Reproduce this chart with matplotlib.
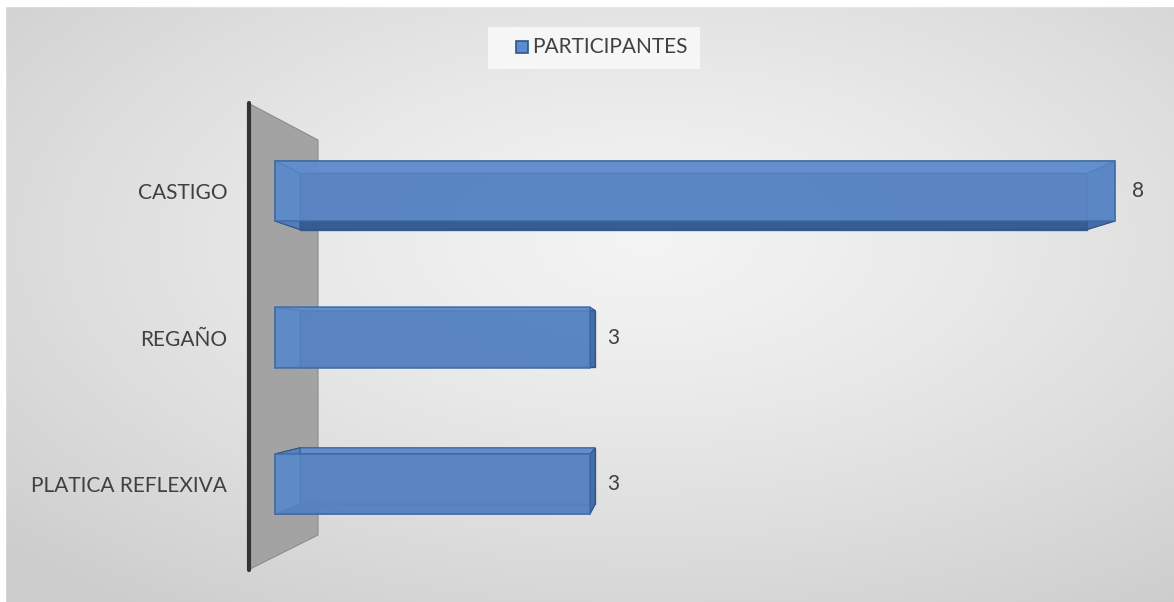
import matplotlib.pyplot as plt
import numpy as np
from matplotlib.patches import Polygon, Rectangle

categories = ["PLATICA REFLEXIVA", "REGAÑO", "CASTIGO"]
values = [3, 3, 8]
series_name = "PARTICIPANTES"

plt.rcParams['font.family'] = ['Lato', 'DejaVu Sans']

W, H = 1174, 602
fig = plt.figure(figsize=(W / 100, H / 100), dpi=100)

# background gradient
bg = fig.add_axes([0, 0, 1, 1])
yy, xx = np.mgrid[0:H, 0:W]
r = np.sqrt(((xx - W * 0.55) / W) ** 2 + ((yy - H * 0.4) / H) ** 2)
shade = 0.955 - 0.15 * np.clip(r / 0.75, 0, 1) ** 1.3
bg.imshow(np.dstack([shade] * 3), extent=[0, W, H, 0], aspect='auto')
bg.add_patch(Rectangle((0, 0), W, 6, color='white'))
bg.add_patch(Rectangle((0, 0), 5, H, color='white'))
bg.set_xlim(0, W)
bg.set_ylim(H, 0)
bg.axis('off')

# plot axes in pixel box x 248..1160, y 95..575
px0, px1, py0, py1 = 248, 1160, 95, 575
ax = fig.add_axes([px0 / W, 1 - py1 / H, (px1 - px0) / W, (py1 - py0) / H])
ax.patch.set_alpha(0)
x_zero, x_scale = 275, 105.0
y_zero, y_scale = 484, 146.5
ax.set_xlim((px0 - x_zero) / x_scale, (px1 - x_zero) / x_scale)
ax.set_ylim((y_zero - py1) / y_scale, (y_zero - py0) / y_scale)

# side wall
fx = lambda p: (p - px0) / (px1 - px0)
fy = lambda p: (py1 - p) / (py1 - py0)
wall = Polygon([(fx(248), fy(103)), (fx(318), fy(140)), (fx(318), fy(535)), (fx(248), fy(570))],
               closed=True, transform=ax.transAxes, facecolor='#a3a3a3', edgecolor='#8c8c8c',
               lw=0.8, zorder=1, clip_on=False)
ax.add_patch(wall)
ax.plot([fx(249), fx(249)], [fy(103), fy(570)], transform=ax.transAxes, color='#333333',
        lw=3, solid_capstyle='round', zorder=2, clip_on=False)

# bars with perspective depth
vpx, vpy, k = (672 - x_zero) / x_scale, (y_zero - 356) / y_scale, 0.063
hh = 0.205
for i, v in enumerate(values):
    front = np.array([(0, i - hh), (v, i - hh), (v, i + hh), (0, i + hh)])
    back = front + k * (np.array([vpx, vpy]) - front)
    ax.add_patch(Polygon(back, closed=True, facecolor='#3a639c', edgecolor='#2f5587',
                         lw=1, alpha=0.9, zorder=3))
    faces = [([0, 1], '#355b91'), ([1, 2], '#446ea8'), ([2, 3], '#6792cf'), ([3, 0], '#5681be')]
    for (a, b), c in faces:
        quad = [front[a], front[b], back[b], back[a]]
        ax.add_patch(Polygon(quad, closed=True, facecolor=c, edgecolor='#2f5587',
                             lw=0.8, alpha=0.9, zorder=4))
    ax.add_patch(Polygon(front, closed=True, facecolor='#5f8ccc', edgecolor='#3d68a6',
                         lw=1.2, alpha=0.78, zorder=5))
    ax.text(v + 0.16, i, str(v), va='center', ha='left', fontsize=15, color='#404040', zorder=6)

ax.set_yticks(range(len(categories)))
ax.set_yticklabels(categories, fontsize=15, color='#404040')
ax.tick_params(axis='y', length=0, pad=15)
ax.set_xticks([])
for s in ax.spines.values():
    s.set_visible(False)

# legend
bg.add_patch(Rectangle((488, 27), 212, 42, facecolor='#fafafa', edgecolor='none', alpha=0.85))
bg.add_patch(Rectangle((516, 41), 12, 12, facecolor='#5b8bd0', edgecolor='#2f5587', lw=1.2))
bg.text(532, 47, series_name, va='center', ha='left', fontsize=15, color='#404040')

fig.savefig('out.png', dpi=100)
